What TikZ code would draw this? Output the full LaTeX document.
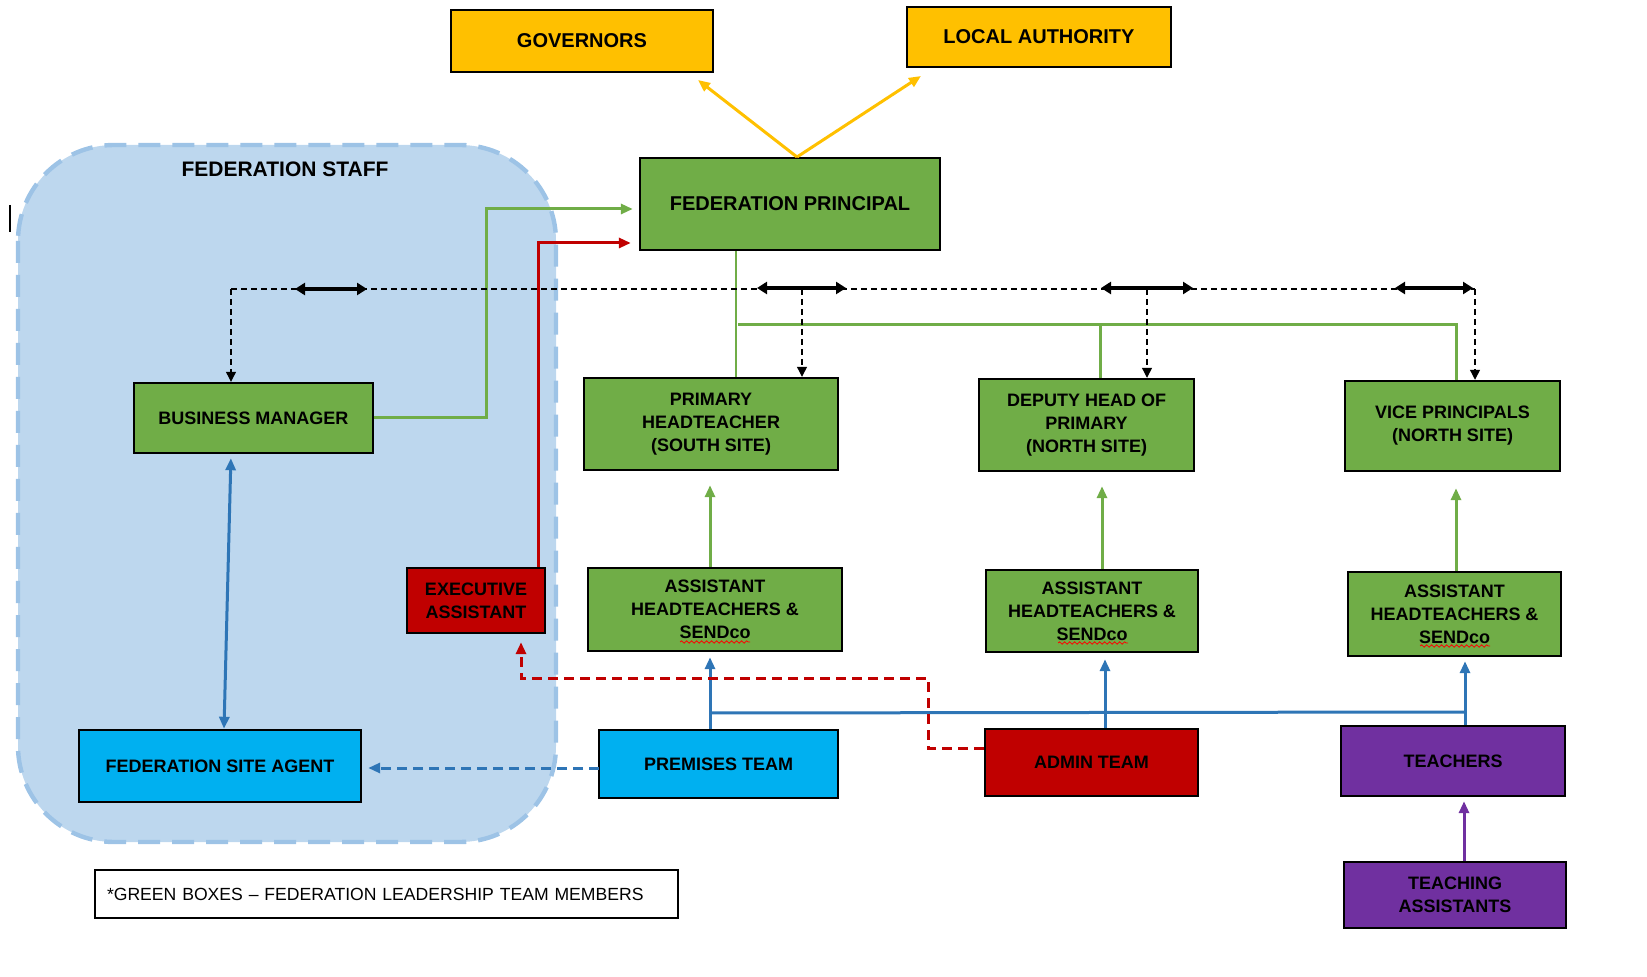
\documentclass[tikz,border=0pt]{standalone}
\usepackage{fontspec}
\setmainfont{Liberation Sans}
\usetikzlibrary{arrows.meta,decorations.pathmorphing}
\definecolor{gold}{HTML}{FFC000}
\definecolor{lgreen}{HTML}{70AD47}
\definecolor{dred}{HTML}{C00000}
\definecolor{cyanb}{HTML}{00B0F0}
\definecolor{purp}{HTML}{7030A0}
\definecolor{bluel}{HTML}{2E75B6}
\definecolor{stafffill}{HTML}{BDD7EE}
\definecolor{staffedge}{HTML}{9DC3E6}
\begin{document}
\begin{tikzpicture}[x=0.5pt,y=-0.5pt,
  box/.style={draw=black, line width=1.2pt, align=center, inner sep=2pt,
    font=\bfseries\fontsize{9}{11.5}\selectfont},
  bigbox/.style={box, font=\bfseries\fontsize{10}{12}\selectfont},
  tip/.style={-{Triangle[length=6pt,width=5pt]}},
  garrow/.style={draw=lgreen, line width=1.5pt, tip},
  gline/.style={draw=lgreen, line width=1.5pt},
  yarrow/.style={draw=gold, line width=1.5pt, tip},
  rarrow/.style={draw=dred, line width=1.5pt, tip},
  barrow/.style={draw=bluel, line width=1.5pt, tip},
  bline/.style={draw=bluel, line width=1.5pt},
  parrow/.style={draw=purp, line width=1.5pt, tip},
  dline/.style={draw=black, line width=0.6pt, dash pattern=on 3pt off 2pt},
  darrow/.style={dline, -{Triangle[length=5pt,width=5pt]}},
  dblarrow/.style={draw=black, line width=1.6pt,
    {Triangle[length=5pt,width=6pt]}-{Triangle[length=5pt,width=6pt]}},
  rdash/.style={draw=dred, line width=1.5pt, dash pattern=on 5pt off 3pt, tip},
  bdash/.style={draw=bluel, line width=1.5pt, dash pattern=on 5pt off 3pt, tip},
  squig/.style={draw=red, line width=0.4pt, decorate,
    decoration={snake, amplitude=0.6pt, segment length=2.5pt}}
]
\useasboundingbox (0,0) rectangle (1647,977);

% federation staff region
\path[fill=stafffill, draw=staffedge, line width=2.2pt, dash pattern=on 11pt off 6pt,
  rounded corners=48pt] (18,145) rectangle (556,842);
\node[font=\bfseries\fontsize{10.5}{12}\selectfont] (fstitle) at (285,169) {FEDERATION STAFF};
\draw[line width=0.6pt] (10,205) -- (10,232);

% boxes
\node[bigbox, fill=gold, minimum width=131pt, minimum height=31pt] (GOV) at (582,41) {GOVERNORS};
\node[bigbox, fill=gold, minimum width=132pt, minimum height=30pt] (LA) at (1039,37) {LOCAL AUTHORITY};
\node[bigbox, fill=lgreen, minimum width=150pt, minimum height=46pt] (FP) at (790,204) {FEDERATION PRINCIPAL};
\node[box, fill=lgreen, minimum width=119.5pt, minimum height=35pt] (BM) at (253.5,418) {BUSINESS MANAGER};
\node[box, fill=lgreen, minimum width=127pt, minimum height=46pt] (PH) at (711,424) {PRIMARY\\HEADTEACHER\\(SOUTH SITE)};
\node[box, fill=lgreen, minimum width=107.5pt, minimum height=46pt] (DH) at (1086.5,425) {DEPUTY HEAD OF\\PRIMARY\\(NORTH SITE)};
\node[box, fill=lgreen, minimum width=107.5pt, minimum height=45pt] (VP) at (1452.5,426) {VICE PRINCIPALS\\(NORTH SITE)};
\node[box, fill=dred, minimum width=69pt, minimum height=32.5pt] (EA) at (476,600.5) {EXECUTIVE\\ASSISTANT};
\node[box, fill=lgreen, minimum width=127pt, minimum height=41.5pt] (AH1) at (715,609.5) {ASSISTANT\\HEADTEACHERS \&\\SENDco};
\node[box, fill=lgreen, minimum width=106pt, minimum height=41pt] (AH2) at (1092,611) {ASSISTANT\\HEADTEACHERS \&\\SENDco};
\node[box, fill=lgreen, minimum width=106.5pt, minimum height=42pt] (AH3) at (1454.5,614) {ASSISTANT\\HEADTEACHERS \&\\SENDco};
\node[box, fill=cyanb, minimum width=141pt, minimum height=36pt] (FSA) at (220,766) {FEDERATION SITE AGENT};
\node[box, fill=cyanb, minimum width=119.5pt, minimum height=34pt] (PT) at (718.5,764) {PREMISES TEAM};
\node[box, fill=dred, minimum width=106.5pt, minimum height=33.5pt] (AT) at (1091.5,762.5) {ADMIN TEAM};
\node[box, fill=purp, minimum width=112pt, minimum height=35pt] (TE) at (1453,761) {TEACHERS};
\node[box, fill=purp, minimum width=111pt, minimum height=33pt] (TA) at (1455,895) {TEACHING\\ASSISTANTS};
\node[draw=black, line width=1.2pt, font=\fontsize{8.8}{11}\selectfont, text width=279.5pt,
  inner xsep=6pt, minimum height=24pt, align=left] (LEG) at (386.5,894)
  {\mbox{*GREEN BOXES -- FEDERATION LEADERSHIP TEAM MEMBERS}};

% spell-check squiggles
\draw[squig] (680,642) -- (750,642);
\draw[squig] (1058,643) -- (1128,643);
\draw[squig] (1420,646) -- (1490,646);

% yellow arrows
\coordinate (ys) at (797,157);
\coordinate (yg) at (698,80);
\coordinate (yl) at (921,76);
\draw[yarrow] (ys) -- (yg);
\draw[yarrow] (ys) -- (yl);

% green BM -> FP
\coordinate (gb) at (486,209);
\draw[garrow, shorten >=3pt] (BM.east) -| (gb) -- (gb -| FP.west);
% red EA -> FP
\coordinate (rb) at (538,243);
\draw[rarrow, shorten >=4pt] (EA.north -| rb) -- (rb) -- (rb -| FP.west);

% green tree
\coordinate (gv) at (736,326);
\draw[draw=lgreen, line width=1pt] (gv |- FP.south) -- (gv |- PH.north);
\coordinate (gh1) at (738,325);
\coordinate (gh2) at (1456,325);
\coordinate (gh3) at (1100,325);
\draw[gline] (gh1) -- (gh2) -- (gh2 |- VP.north);
\draw[gline] (gh3) -- (gh3 |- DH.north);

% dashed coordination line
\coordinate (dl) at (231,289);
\coordinate (dr) at (1475,289);
\coordinate (d2) at (802,289);
\coordinate (d3) at (1147,289);
\draw[dline] (dl) -- (dr);
\draw[darrow] (dl) -- (dl |- BM.north);
\draw[darrow] (d2) -- (d2 |- PH.north);
\draw[darrow] (d3) -- (d3 |- DH.north);
\draw[darrow] (dr) -- (dr |- VP.north);
\coordinate (a1l) at (295,289); \coordinate (a1r) at (367,289);
\coordinate (a2l) at (757,288); \coordinate (a2r) at (846,288);
\coordinate (a3l) at (1101,288); \coordinate (a3r) at (1193,288);
\coordinate (a4l) at (1395,288); \coordinate (a4r) at (1473,288);
\draw[dblarrow] (a1l) -- (a1r);
\draw[dblarrow] (a2l) -- (a2r);
\draw[dblarrow] (a3l) -- (a3r);
\draw[dblarrow] (a4l) -- (a4r);

% green up arrows
\draw[garrow, shorten >=7pt] ([xshift=-2.5pt]AH1.north) -- ([xshift=-2.5pt]AH1.north |- PH.south);
\draw[garrow, shorten >=7pt] ([xshift=5pt]AH2.north) -- ([xshift=5pt]AH2.north |- DH.south);
\draw[garrow, shorten >=8pt] ([xshift=0.75pt]AH3.north) -- ([xshift=0.75pt]AH3.north |- VP.south);

% blue tree
\coordinate (b1) at (710,713);
\coordinate (b2) at (1465,712);
\coordinate (b3) at (1105,713);
\draw[bline] (b1) -- (b2);
\draw[barrow, shorten >=2.5pt] (b1 |- PT.north) -- (b1 |- AH1.south);
\draw[barrow, shorten >=3pt] (b3 |- AT.north) -- (b3 |- AH2.south);
\draw[barrow, shorten >=2pt] (b2 |- TE.north) -- (b2 |- AH3.south);

% BM <-> FSA
\draw[draw=bluel, line width=1.5pt, {Triangle[length=6pt,width=5pt]}-{Triangle[length=6pt,width=5pt]},
  shorten <=2pt] ([xshift=-11.25pt]BM.south) -- ([xshift=2pt]FSA.north);

% dashed PT -> FSA
\coordinate (pd) at (599,768);
\draw[bdash, shorten >=3pt] (pd) -- (pd -| FSA.east);

% red dashed AT -> EA
\coordinate (r1) at (928,748);
\coordinate (r2) at (521,678);
\draw[rdash, shorten >=4pt] (r1 -| AT.west) -- (r1) |- (r2) -- (r2 |- EA.south);

% purple
\draw[parrow, shorten >=2pt] ([xshift=4.5pt]TA.north) -- ([xshift=4.5pt]TA.north |- TE.south);
\end{tikzpicture}
\end{document}
